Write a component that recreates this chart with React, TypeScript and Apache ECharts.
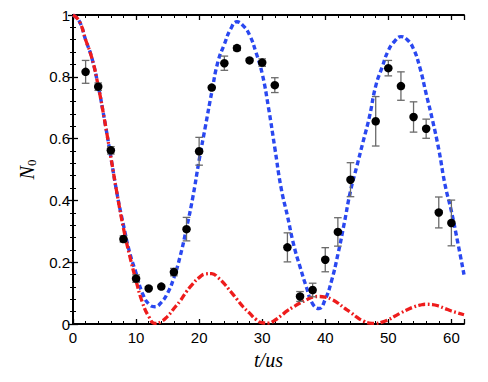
import React, { useEffect, useRef } from "react";
import * as echarts from "echarts";

// Experimental points (t in us) with symmetric error bars
const pointT = [2, 4, 6, 8, 10, 12, 14, 16, 18, 20, 22, 24, 26, 28, 30, 32, 34, 36, 38, 40, 42, 44, 48, 50, 52, 54, 56, 58, 60];
const pointN = [0.816, 0.768, 0.562, 0.275, 0.147, 0.115, 0.121, 0.168, 0.307, 0.559, 0.765, 0.844, 0.893, 0.853, 0.846, 0.773, 0.248, 0.089, 0.11, 0.208, 0.298, 0.467, 0.656, 0.828, 0.77, 0.67, 0.632, 0.361, 0.327];
const pointErr = [0.037, 0.012, 0.012, 0.01, 0.012, 0, 0, 0.012, 0.038, 0.045, 0, 0.023, 0.008, 0, 0.012, 0.024, 0.047, 0.016, 0.022, 0.039, 0.046, 0.055, 0.08, 0.025, 0.046, 0.049, 0.031, 0.05, 0.074];

// Theory curves sampled at t = 0..62
const curveT = Array.from({ length: 63 }, (_, i) => i);
const blueCurve = [1.0, 0.98, 0.92, 0.86, 0.77, 0.66, 0.54, 0.42, 0.32, 0.23, 0.165, 0.1, 0.065, 0.056, 0.07, 0.1, 0.15, 0.22, 0.31, 0.41, 0.53, 0.64, 0.75, 0.85, 0.905, 0.955, 0.978, 0.965, 0.935, 0.88, 0.81, 0.7, 0.57, 0.44, 0.35, 0.256, 0.185, 0.12, 0.065, 0.05, 0.08, 0.14, 0.225, 0.325, 0.43, 0.51, 0.59, 0.67, 0.77, 0.83, 0.885, 0.915, 0.93, 0.92, 0.89, 0.83, 0.745, 0.66, 0.565, 0.45, 0.365, 0.265, 0.16];
const redCurve = [1.0, 0.98, 0.92, 0.86, 0.77, 0.66, 0.54, 0.42, 0.31, 0.22, 0.14, 0.07, 0.025, 0.002, 0.008, 0.025, 0.05, 0.075, 0.105, 0.13, 0.15, 0.162, 0.163, 0.15, 0.13, 0.105, 0.08, 0.055, 0.035, 0.015, 0.004, 0.003, 0.012, 0.027, 0.043, 0.056, 0.068, 0.078, 0.087, 0.089, 0.087, 0.08, 0.068, 0.052, 0.038, 0.022, 0.01, 0.003, 0.002, 0.006, 0.014, 0.025, 0.036, 0.046, 0.055, 0.061, 0.064, 0.063, 0.058, 0.05, 0.042, 0.036, 0.03];

const X_MAX = 62;
const X_MAJOR = 10;
const X_MINOR = 2;

export default function App() {
  const ref = useRef<HTMLDivElement>(null);
  useEffect(() => {
    if (!ref.current) return;
    const chart = echarts.init(ref.current, null, { renderer: "svg" });
    const labelFont = { fontFamily: "Liberation Sans", fontSize: 15, color: "#000" };
    const baseX = {
      type: "value" as const,
      min: 0,
      max: X_MAX,
      splitLine: { show: false },
      axisLine: { show: true, lineStyle: { color: "#000", width: 2 } },
    };
    const option: any = {
      animation: false,
      backgroundColor: "#fff",
      grid: { left: 73, right: 24, top: 15, bottom: 58, containLabel: false },
      xAxis: [
        {
          ...baseX,
          position: "bottom",
          interval: X_MAJOR,
          axisTick: { show: true, inside: true, length: 5, lineStyle: { color: "#000", width: 1.3 } },
          axisLabel: {
            ...labelFont,
            margin: 6,
            formatter: (v: number) => (v % X_MAJOR === 0 ? String(v) : ""),
          },
          name: "t/us",
          nameLocation: "middle",
          nameGap: 17,
          nameTextStyle: { fontFamily: "Liberation Serif", fontStyle: "italic", fontSize: 20, color: "#000" },
        },
        {
          ...baseX,
          position: "bottom",
          interval: X_MINOR,
          axisLine: { show: false },
          axisTick: { show: true, inside: true, length: 3, lineStyle: { color: "#000", width: 1 } },
          axisLabel: { show: false },
        },
        {
          ...baseX,
          position: "top",
          interval: X_MAJOR,
          axisTick: { show: true, inside: true, length: 5, lineStyle: { color: "#000", width: 1.3 } },
          axisLabel: { show: false },
        },
        {
          ...baseX,
          position: "top",
          interval: X_MINOR,
          axisLine: { show: false },
          axisTick: { show: true, inside: true, length: 3, lineStyle: { color: "#000", width: 1 } },
          axisLabel: { show: false },
        },
      ],
      yAxis: [
        {
          type: "value",
          min: 0,
          max: 1,
          interval: 0.2,
          position: "left",
          splitLine: { show: false },
          axisLine: { show: true, lineStyle: { color: "#000", width: 2 } },
          axisTick: { show: true, inside: true, length: 5, lineStyle: { color: "#000", width: 1.3 } },
          minorTick: { show: true, splitNumber: 5, length: 3, lineStyle: { color: "#000", width: 1 } },
          axisLabel: { ...labelFont, margin: 3, formatter: (v: number) => String(Math.round(v * 10) / 10) },
          name: "{a|N}{b|0}",
          nameLocation: "middle",
          nameGap: 28,
          nameTextStyle: {
            rich: {
              a: { fontFamily: "Liberation Serif", fontStyle: "italic", fontSize: 20, color: "#000" },
              b: { fontFamily: "Liberation Serif", fontSize: 13, color: "#000", padding: [10, 0, 0, 0] },
            },
          },
        },
        {
          type: "value",
          min: 0,
          max: 1,
          interval: 0.2,
          position: "right",
          splitLine: { show: false },
          axisLine: { show: true, lineStyle: { color: "#000", width: 2 } },
          axisTick: { show: true, inside: true, length: 5, lineStyle: { color: "#000", width: 1.3 } },
          minorTick: { show: true, splitNumber: 5, length: 3, lineStyle: { color: "#000", width: 1 } },
          axisLabel: { show: false },
        },
      ],
      series: [
        {
          type: "line",
          data: curveT.map((t, i) => [t, blueCurve[i]]),
          smooth: true,
          showSymbol: false,
          lineStyle: { color: "#2a48f0", width: 3.4, type: [5, 3] },
          z: 2,
        },
        {
          type: "line",
          data: curveT.map((t, i) => [t, redCurve[i]]),
          smooth: true,
          showSymbol: false,
          lineStyle: { color: "#ee1c1c", width: 3.3, type: [7, 2.5, 1.8, 2.5] },
          z: 3,
        },
        {
          type: "custom",
          encode: { x: 0, y: 1 },
          data: pointT.map((t, i) => [t, pointN[i], pointErr[i]]),
          renderItem: (params: any, api: any) => {
            const x = api.value(0);
            const y = api.value(1);
            const e = api.value(2);
            if (!e) return { type: "group", children: [] };
            const top = api.coord([x, y + e]);
            const bot = api.coord([x, y - e]);
            const hw = 3.8;
            const st = { stroke: "#6a6a6a", lineWidth: 1.3 };
            return {
              type: "group",
              children: [
                { type: "line", shape: { x1: top[0], y1: top[1], x2: bot[0], y2: bot[1] }, style: st },
                { type: "line", shape: { x1: top[0] - hw, y1: top[1], x2: top[0] + hw, y2: top[1] }, style: st },
                { type: "line", shape: { x1: bot[0] - hw, y1: bot[1], x2: bot[0] + hw, y2: bot[1] }, style: st },
              ],
            };
          },
          z: 4,
        },
        {
          type: "scatter",
          data: pointT.map((t, i) => [t, pointN[i]]),
          symbol: "circle",
          symbolSize: 8.5,
          itemStyle: { color: "#000", opacity: 1 },
          z: 5,
        },
      ],
    };
    chart.setOption(option);
    return () => chart.dispose();
  }, []);
  return (
    <div
      ref={ref}
      style={{ position: "fixed", left: 0, top: 0, width: 488, height: 382, background: "#fff" }}
    />
  );
}
